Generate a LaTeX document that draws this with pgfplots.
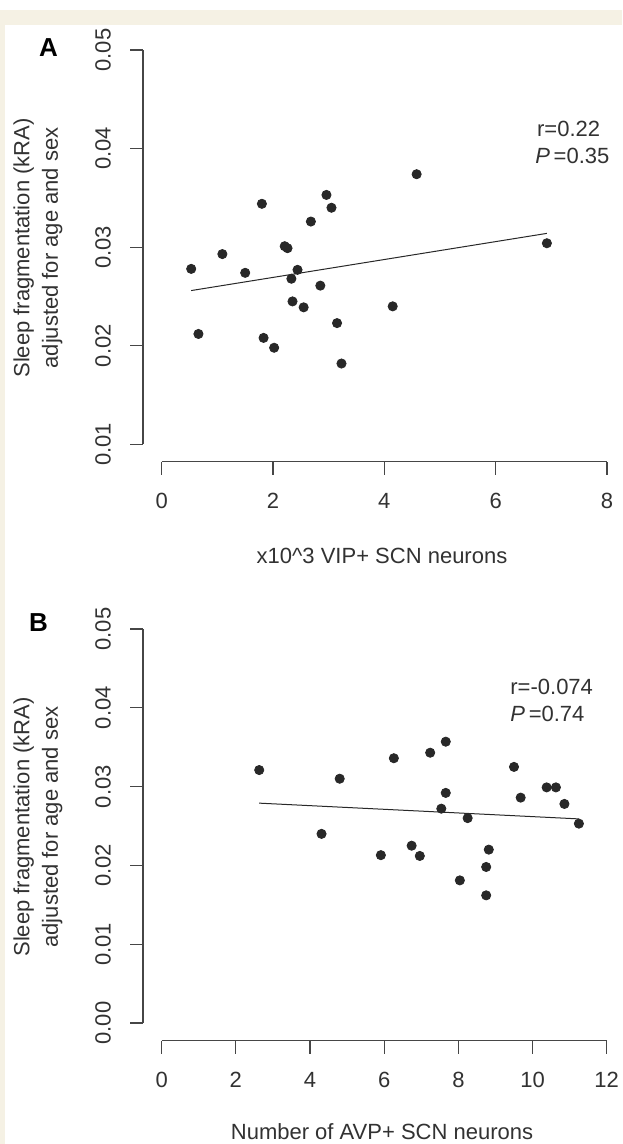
\documentclass[border=0pt]{standalone}
\usepackage{fontspec}
\setmainfont{Liberation Sans}
\usepackage{pgfplots}
\usepackage{pgfplotstable}
\pgfplotsset{compat=1.18}
\definecolor{beige}{RGB}{245,241,228}
\definecolor{dotc}{RGB}{40,40,40}
\definecolor{axc}{RGB}{70,70,70}
\definecolor{txt}{RGB}{50,50,50}

\pgfplotstableread{
x y
0.53 0.0278
0.66 0.0212
1.09 0.0293
1.50 0.0274
1.80 0.0344
1.83 0.0208
2.02 0.0198
2.21 0.0301
2.26 0.0299
2.33 0.0268
2.35 0.0245
2.44 0.0277
2.55 0.0239
2.68 0.0326
2.85 0.0261
2.96 0.0353
3.05 0.0340
3.15 0.0223
3.23 0.0182
4.15 0.0240
4.58 0.0374
6.92 0.0304
}\dataA

\pgfplotstableread{
x y
2.63 0.0321
4.31 0.0240
4.80 0.0310
5.91 0.0213
6.26 0.0336
6.74 0.0225
6.96 0.0212
7.24 0.0343
7.54 0.0272
7.66 0.0357
7.66 0.0292
8.04 0.0181
8.25 0.0260
8.75 0.0198
8.75 0.0162
8.82 0.0220
9.50 0.0325
9.68 0.0286
10.38 0.0299
10.63 0.0299
10.86 0.0278
11.25 0.0253
}\dataB

\pgfplotsset{
  panel/.style={
    scale only axis, anchor=south west,
    axis x line*=bottom, axis y line*=left,
    axis line style={draw=none,-},
    tick align=outside, major tick length=6.5pt,
    every tick/.style={axc, line width=0.6pt},
    ticklabel style={font=\fontsize{11}{13}\selectfont, text=txt},
    xticklabel shift=5.8pt, yticklabel shift=6pt,
    yticklabel style={rotate=90, anchor=south},
    scaled y ticks=false, scaled x ticks=false, clip=false,
  },
  dots/.style={only marks, mark=*, mark size=2.3pt, color=dotc},
  fitline/.style={no marks, color=dotc, line width=0.5pt},
}

\begin{document}
\begin{tikzpicture}
\useasboundingbox (0,0) rectangle (311pt,572pt);
\fill[white] (0,0) rectangle (311pt,572pt);
\fill[beige] (0,559.5pt) rectangle (311pt,567pt);
\fill[beige] (0,0) rectangle (2.5pt,567pt);

% Panel A
\begin{axis}[panel, at={(71.5pt,341.15pt)}, width=232pt, height=205.85pt,
  xmin=-0.336, xmax=8, ymin=0.008245, ymax=0.05,
  xtick={0,2,4,6,8}, xticklabels={0,2,4,6,8},
  ytick={0.01,0.02,0.03,0.04,0.05}, yticklabels={0.01,0.02,0.03,0.04,0.05}]
  \draw[axc, line width=0.6pt] (axis cs:0,0.008245) -- (axis cs:8,0.008245);
  \draw[axc, line width=0.6pt] (axis cs:-0.336,0.01) -- (axis cs:-0.336,0.05);
  \addplot[dots] table[x=x,y=y] {\dataA};
  \addplot[fitline] coordinates {(0.53,0.0256) (6.92,0.0314)};
\end{axis}

% Panel B
\begin{axis}[panel, at={(71.5pt,51.65pt)}, width=231.85pt, height=205.85pt,
  xmin=-0.504, xmax=12, ymin=-0.002246, ymax=0.05,
  xtick={0,2,4,6,8,10,12}, xticklabels={0,2,4,6,8,10,12},
  ytick={0,0.01,0.02,0.03,0.04,0.05}, yticklabels={0.00,0.01,0.02,0.03,0.04,0.05}]
  \draw[axc, line width=0.6pt] (axis cs:0,-0.002246) -- (axis cs:12,-0.002246);
  \draw[axc, line width=0.6pt] (axis cs:-0.504,0) -- (axis cs:-0.504,0.05);
  \addplot[dots] table[x=x,y=y] {\dataB};
  \addplot[fitline] coordinates {(2.63,0.0279) (11.25,0.0259)};
\end{axis}

% labels
\tikzset{lab/.style={font=\fontsize{11}{14.3}\selectfont, text=txt, inner sep=0pt}}
\node[lab, rotate=90, align=center, anchor=center] at (19pt,448pt) {Sleep fragmentation (kRA)\\adjusted for age and sex};
\node[lab, rotate=90, align=center, anchor=center] at (19pt,158.5pt) {Sleep fragmentation (kRA)\\adjusted for age and sex};
\node[lab, anchor=base] at (191pt,290pt) {x10\textasciicircum3 VIP+ SCN neurons};
\node[lab, anchor=base] at (191pt,2pt) {Number of AVP+ SCN neurons};
\node[font=\fontsize{13}{15}\selectfont\bfseries, inner sep=0pt, anchor=base] at (24.3pt,543.5pt) {A};
\node[font=\fontsize{13}{15}\selectfont\bfseries, inner sep=0pt, anchor=base] at (19.2pt,256pt) {B};
\node[lab, anchor=base west] at (268.35pt,503.65pt) {r=0.22};
\node[lab, anchor=base west] at (267.5pt,490.35pt) {\textit{P}\,=0.35};
\node[lab, anchor=base west] at (255pt,224.5pt) {r=-0.074};
\node[lab, anchor=base west] at (255pt,211.15pt) {\textit{P}\,=0.74};
\end{tikzpicture}
\end{document}
